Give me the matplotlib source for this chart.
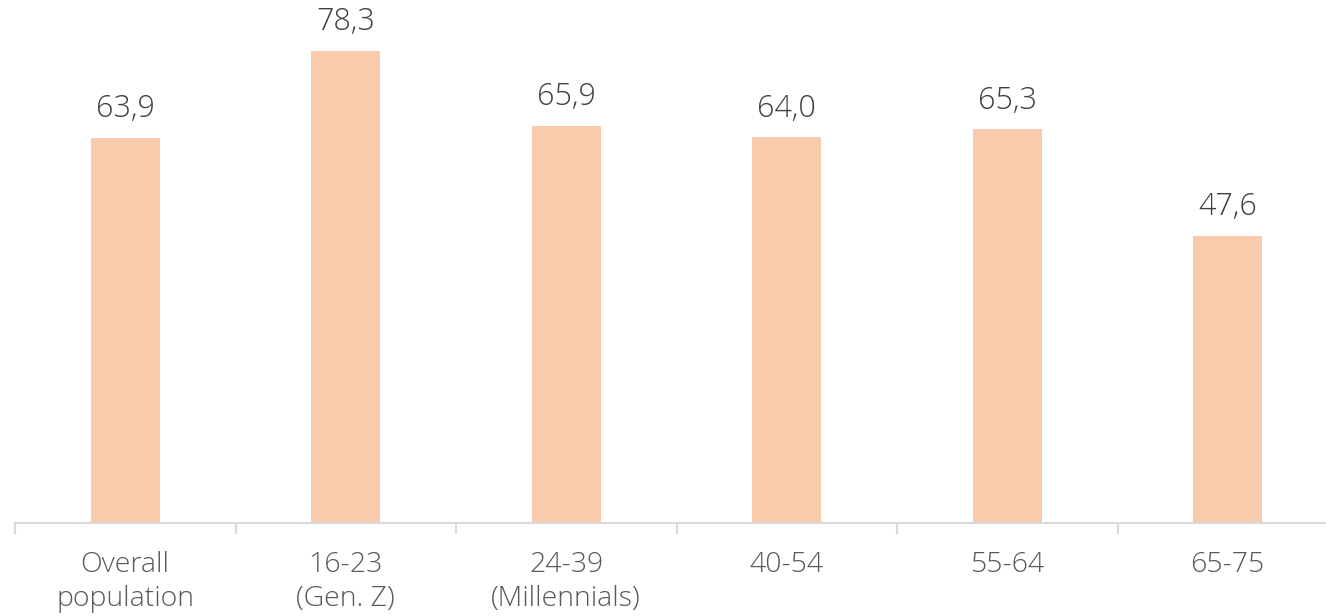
import matplotlib
matplotlib.use("Agg")
import matplotlib.pyplot as plt
from matplotlib.ticker import FixedLocator
import numpy as np

categories = ["Overall\npopulation", "16-23\n(Gen. Z)", "24-39\n(Millennials)", "40-54", "55-64", "65-75"]
values = [63.9, 78.3, 65.9, 64.0, 65.3, 47.6]
value_labels = ["63,9", "78,3", "65,9", "64,0", "65,3", "47,6"]

plt.rcParams['font.family'] = ['Open Sans', 'DejaVu Sans']

W, H = 1326, 616
fig = plt.figure(figsize=(W / 100, H / 100), dpi=100)
ax = fig.add_axes([15 / W, (H - 523) / H, (1338 - 15) / W, 523 / H])

x = np.arange(len(categories))
ax.bar(x, values, width=0.313, color="#F8CBAD")
ax.set_xlim(-0.5, len(categories) - 0.5)
ax.set_ylim(0, 523 / 6.03)

for xi, v, lab in zip(x, values, value_labels):
    ax.annotate(lab, (xi, v), xytext=(0, 9), textcoords="offset points",
                ha="center", va="bottom", fontsize=22, color="#404040",
                fontweight="light")

for s in ["top", "right", "left"]:
    ax.spines[s].set_visible(False)
ax.spines["bottom"].set_color("#D9D9D9")
ax.spines["bottom"].set_linewidth(1.5)
ax.set_yticks([])
ax.set_xticks(x)
ax.set_xticklabels(categories, fontsize=20.5, color="#595959", fontweight="light", linespacing=1.3)
ax.tick_params(axis="x", which="major", length=0, pad=20)
ax.xaxis.set_minor_locator(FixedLocator(np.arange(-0.5, len(categories) + 0.5, 1)))
ax.tick_params(axis="x", which="minor", length=8, width=1.5, color="#D9D9D9")

fig.savefig("out.png", dpi=100)
